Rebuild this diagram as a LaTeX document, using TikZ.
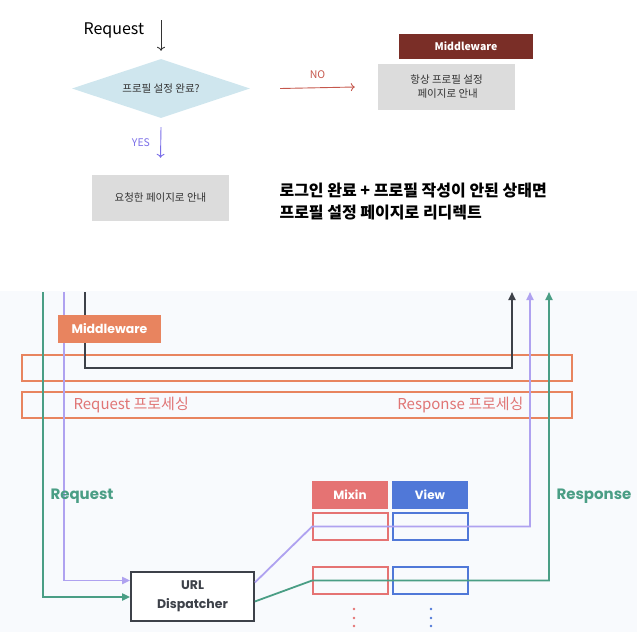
\documentclass[tikz,border=0pt]{standalone}
\usepackage{fontspec}
\setmainfont{Noto Sans CJK KR}
\newfontfamily\popp{Poppins}
\usetikzlibrary{shapes.geometric,arrows.meta}

\definecolor{qfill}{HTML}{CFE6EE}
\definecolor{boxgray}{HTML}{DCDCDC}
\definecolor{txtgray}{HTML}{333333}
\definecolor{mwdark}{HTML}{7A2E27}
\definecolor{nored}{HTML}{C5574C}
\definecolor{yesblue}{HTML}{7B6FE8}
\definecolor{mworange}{HTML}{E8845F}
\definecolor{proctext}{HTML}{E07575}
\definecolor{flowgreen}{HTML}{4A9E85}
\definecolor{flowpurple}{HTML}{AFA2F0}
\definecolor{flowdark}{HTML}{3D4149}
\definecolor{mixincol}{HTML}{E57373}
\definecolor{viewcol}{HTML}{5078D8}
\definecolor{bgcol}{HTML}{F8FAFD}

\tikzset{
  graybox/.style={fill=boxgray,minimum width=137pt,minimum height=46pt,inner sep=0pt,
    text=txtgray,align=center,font=\fontsize{10.5}{14}\selectfont},
  thinarr/.style={-{To[length=4pt,width=8pt]},line width=0.9pt},
  flow/.style={line width=1.8pt},
  flowarr/.style={flow,-{Triangle[length=8pt,width=7pt]}},
  procbox/.style={draw=mworange,line width=1.7pt,minimum width=550pt,minimum height=26pt,inner sep=0pt},
  cellbox/.style={line width=1.7pt,minimum width=75pt,minimum height=27pt,inner sep=0pt},
  hdrbox/.style={minimum width=76pt,minimum height=28pt,inner sep=0pt,text=white,
    font=\popp\bfseries\fontsize{12}{14}\selectfont},
}

\begin{document}
\begin{tikzpicture}[x=1pt,y=-1pt]
  \useasboundingbox (0,0) rectangle (637,632);

  % --- top: profile check flow
  \node [anchor=west,font=\fontsize{16}{18}\selectfont] (reqtxt) at (80,30) {Request};
  \node [diamond,aspect=3,fill=qfill,minimum width=178pt,minimum height=59pt,inner sep=0pt,
         text=txtgray,font=\fontsize{10.5}{12}\selectfont] (check) at (161,88.5) {프로필 설정 완료?};
  \node [graybox] (done)   at (160.5,198) {요청한 페이지로 안내};
  \node [graybox] (always) at (446.5,87)  {항상 프로필 설정\\ \ 페이지로 안내};
  \node [fill=mwdark,minimum width=134pt,minimum height=25pt,inner sep=0pt,text=white,
         font=\bfseries\fontsize{10.5}{12}\selectfont] (mwtop) at (466,46.5) {Middleware};

  \coordinate (reqa) at (161,20);
  \draw [thinarr,txtgray] (reqa) -- ([yshift=8pt]check.north);
  \draw [thinarr,yesblue] ([yshift=-9pt]check.south) -- ([yshift=17pt]done.north)
    node [midway,left=7pt,font=\fontsize{10.5}{12}\selectfont] (yes) {YES};
  \draw [thinarr,nored] ([xshift=30pt]check.east) -- ([xshift=-23pt]always.west)
    node [midway,above=5pt,font=\fontsize{10.5}{12}\selectfont] (no) {NO};

  \node [anchor=north west,align=left,font=\bfseries\fontsize{16}{22}\selectfont] (note) at (276,179)
    {로그인 완료 + 프로필 작성이 안된 상태면\\프로필 설정 페이지로 리디렉트};

  % --- bottom: request / response flow
  \fill [bgcol] (0,291) rectangle (637,632);

  \node [procbox] (proc1) at (297,368) {};
  \node [procbox] (proc2) at (297,405) {};
  \node [anchor=west,text=proctext,font=\fontsize{15}{17}\selectfont] (reqproc) at (70,405) {Request 프로세싱};
  \node [anchor=east,text=proctext,font=\fontsize{15}{17}\selectfont] (resproc) at (527,405) {Response 프로세싱};

  \node [draw=flowdark,fill=white,line width=1.7pt,minimum width=123pt,minimum height=49pt,inner sep=0pt,
         align=center,text=flowdark,font=\popp\bfseries\fontsize{12.5}{19}\selectfont] (disp) at (192.5,596.5) {URL\\Dispatcher};

  \node [hdrbox,fill=mixincol] (mixin) at (350,495) {Mixin};
  \node [hdrbox,fill=viewcol]  (view)  at (430,495) {View};
  \node [cellbox,draw=mixincol] (m1) at (350.5,526.5) {};
  \node [cellbox,draw=viewcol]  (v1) at (430.5,526.5) {};
  \node [cellbox,draw=mixincol] (m2) at (350.5,580.5) {};
  \node [cellbox,draw=viewcol]  (v2) at (430.5,580.5) {};
  \foreach \y in {609,618,626} {
    \fill [mixincol] (354,\y) circle (1.3pt);
    \fill [viewcol]  (431,\y) circle (1.3pt);
  }

  \coordinate (gtop) at (43,292);
  \coordinate (ptop) at (64,292);
  \coordinate (dtop) at (85,292);
  \coordinate (dend) at (512,292);
  \coordinate (pend) at (530,292);
  \coordinate (gend) at (549,292);

  \draw [flowarr,flowgreen]  (gtop) |- ([yshift=-0.5pt]disp.west);
  \draw [flowarr,flowpurple] (ptop) |- ([yshift=16pt]disp.west);
  \draw [flowarr,flowdark]   (dtop) |- (proc1.center -| dtop) -- (proc1.center -| dend) -- (dend);
  \draw [flowarr,flowpurple] ([yshift=14pt]disp.east) -- (m1.west) -| (pend);
  \draw [flowarr,flowgreen]  ([yshift=-5pt]disp.east) -- (m2.west) -| (gend);

  \node [fill=mworange,minimum width=103pt,minimum height=28pt,inner sep=0pt,text=white,
         font=\popp\bfseries\fontsize{12.5}{14}\selectfont] (mwbot) at (109.5,329) {Middleware};
  \node [anchor=west,text=flowgreen,font=\popp\bfseries\fontsize{15}{17}\selectfont] (reqlbl) at (47,496) {Request};
  \node [anchor=west,text=flowgreen,font=\popp\bfseries\fontsize{15}{17}\selectfont] (reslbl) at (553,496) {Response};
\end{tikzpicture}
\end{document}
